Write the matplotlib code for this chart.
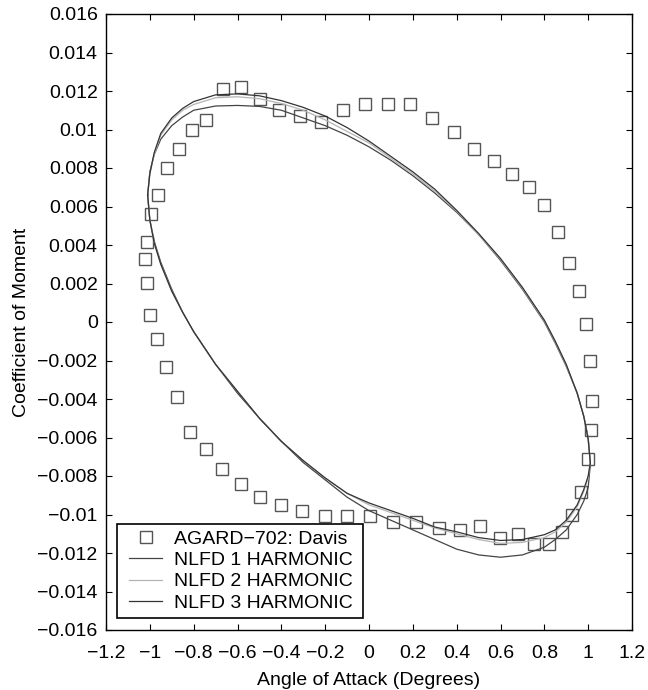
import matplotlib
matplotlib.use("Agg")
import matplotlib.pyplot as plt
from matplotlib.patches import Rectangle

plt.rcParams['font.family'] = ['Liberation Sans', 'DejaVu Sans']

# Experimental data (AGARD-702: Davis)
exp_alpha = [-0.665, -0.585, -0.499, -0.409, -0.315, -0.218, -0.117, -0.017, 0.087, 0.188,
             0.288, 0.386, 0.480, 0.569, 0.652, 0.729, 0.798, 0.861, 0.914, 0.958,
             0.989, 1.010, 1.019, 1.014, 0.998, 0.969, 0.928, 0.881, 0.821, 0.753,
             0.681, 0.598, 0.508, 0.415, 0.318, 0.214, 0.111, 0.005, -0.100, -0.202,
             -0.306, -0.403, -0.496, -0.586, -0.669, -0.745, -0.817, -0.876, -0.928, -0.969,
             -0.998, -1.014, -1.021, -1.012, -0.993, -0.961, -0.920, -0.868, -0.806, -0.742]
exp_cm = [0.01209, 0.01219, 0.01158, 0.01100, 0.01069, 0.01039, 0.01100, 0.01131, 0.01130, 0.01130,
          0.01058, 0.00989, 0.00897, 0.00838, 0.00769, 0.00700, 0.00608, 0.00469, 0.00308, 0.00159,
          -0.00010, -0.00203, -0.00410, -0.00561, -0.00712, -0.00882, -0.01003, -0.01092, -0.01152, -0.01152,
          -0.01101, -0.01122, -0.01061, -0.01081, -0.01072, -0.01041, -0.01039, -0.01010, -0.01010, -0.01010,
          -0.00982, -0.00951, -0.00909, -0.00842, -0.00762, -0.00660, -0.00571, -0.00391, -0.00232, -0.00090,
          0.00036, 0.00201, 0.00327, 0.00416, 0.00559, 0.00660, 0.00798, 0.00899, 0.00999, 0.01049]

# NLFD loops: upper branch (left -> right) then lower branch (right -> left)
alpha_upper = [-1.01, -1.0, -0.98, -0.95, -0.9, -0.85, -0.8, -0.7, -0.6, -0.5, -0.4, -0.3, -0.2, -0.1,
               0.0, 0.1, 0.2, 0.3, 0.4, 0.5, 0.6, 0.7, 0.8, 0.85, 0.9, 0.95, 0.98, 1.0, 1.01]
alpha_lower = [1.0, 0.98, 0.95, 0.9, 0.85, 0.8, 0.7, 0.6, 0.5, 0.4, 0.3, 0.2, 0.1, 0.0,
               -0.1, -0.2, -0.3, -0.4, -0.5, -0.6, -0.7, -0.8, -0.85, -0.9, -0.95, -0.98, -1.0, -1.01]

h1_upper = [0.0066, 0.0078, 0.0087, 0.0095, 0.0102, 0.01065, 0.0110, 0.01122, 0.01125, 0.0112, 0.0110, 0.0106, 0.0102, 0.0097,
            0.0091, 0.0084, 0.0076, 0.0067, 0.0057, 0.00455, 0.0032, 0.0017, 0.0000, -0.0011, -0.0023, -0.0037, -0.0049, -0.0060, -0.0074]
h1_lower = [-0.0086, -0.0093, -0.0100, -0.0108, -0.0113, -0.0117, -0.0121, -0.01222, -0.0121, -0.0118, -0.0113, -0.0108, -0.0103, -0.0098,
            -0.0091, -0.0082, -0.0073, -0.0062, -0.0050, -0.0037, -0.0022, -0.0005, 0.0005, 0.0017, 0.0031, 0.0042, 0.0053, 0.0066]

h2_upper = [0.0066, 0.0077, 0.0087, 0.0097, 0.0105, 0.0110, 0.0113, 0.01165, 0.0117, 0.0116, 0.01135, 0.0110, 0.0105, 0.0099,
            0.0093, 0.0085, 0.0077, 0.0068, 0.00575, 0.00455, 0.00325, 0.00175, 0.00005, -0.00105, -0.00225, -0.0037, -0.0049, -0.00605, -0.0073]
h2_lower = [-0.0081, -0.0088, -0.0096, -0.0104, -0.0109, -0.0112, -0.01145, -0.0115, -0.0113, -0.0110, -0.0107, -0.0103, -0.0099, -0.0095,
            -0.0089, -0.0081, -0.0072, -0.0062, -0.0050, -0.0036, -0.0022, -0.0005, 0.0005, 0.0016, 0.0030, 0.0041, 0.0053, 0.0066]

h3_upper = [0.0066, 0.0077, 0.0088, 0.0098, 0.0106, 0.0111, 0.01145, 0.0118, 0.01185, 0.01175, 0.0115, 0.01115, 0.0107, 0.0101,
            0.0094, 0.0086, 0.0078, 0.0069, 0.0058, 0.0046, 0.0033, 0.0018, 0.0001, -0.0010, -0.0022, -0.0037, -0.0049, -0.0061, -0.0073]
h3_lower = [-0.0080, -0.0087, -0.0095, -0.0103, -0.0108, -0.01105, -0.0113, -0.01135, -0.0112, -0.0109, -0.01065, -0.0102, -0.0098, -0.0094,
            -0.0089, -0.0081, -0.0072, -0.0062, -0.0050, -0.0036, -0.0022, -0.0005, 0.0005, 0.0016, 0.0030, 0.0041, 0.0053, 0.0066]

x_ticks = [-1.2, -1.0, -0.8, -0.6, -0.4, -0.2, 0.0, 0.2, 0.4, 0.6, 0.8, 1.0, 1.2]
x_ticklabels = ['\u22121.2', '\u22121', '\u22120.8', '\u22120.6', '\u22120.4', '\u22120.2', '0',
                '0.2', '0.4', '0.6', '0.8', '1', '1.2']
y_ticks = [0.016, 0.014, 0.012, 0.010, 0.008, 0.006, 0.004, 0.002, 0.0,
           -0.002, -0.004, -0.006, -0.008, -0.010, -0.012, -0.014, -0.016]
y_ticklabels = ['0.016', '0.014', '0.012', '0.01', '0.008', '0.006', '0.004', '0.002', '0',
                '\u22120.002', '\u22120.004', '\u22120.006', '\u22120.008', '\u22120.01',
                '\u22120.012', '\u22120.014', '\u22120.016']

labels = ['AGARD\u2212702: Davis', 'NLFD 1 HARMONIC', 'NLFD 2 HARMONIC', 'NLFD 3 HARMONIC']

FS = 14

fig = plt.figure(figsize=(6.48, 6.90), dpi=100)
ax = fig.add_axes([106 / 648, 60 / 690, 526 / 648, 616 / 690])

l0, = ax.plot(exp_alpha, exp_cm, linestyle='none', marker='s', markersize=9,
              markerfacecolor='none', markeredgecolor='#555555', markeredgewidth=1.0)
l1, = ax.plot(alpha_upper + alpha_lower + alpha_upper[:1], h1_upper + h1_lower + h1_upper[:1],
              color='#444444', lw=0.9)
l2, = ax.plot(alpha_upper + alpha_lower + alpha_upper[:1], h2_upper + h2_lower + h2_upper[:1],
              color='#b4b4b4', lw=0.9)
l3, = ax.plot(alpha_upper + alpha_lower + alpha_upper[:1], h3_upper + h3_lower + h3_upper[:1],
              color='#333333', lw=0.9)

ax.set_xlim(-1.2, 1.2)
ax.set_ylim(-0.016, 0.016)
ax.set_xticks(x_ticks)
ax.set_xticklabels(x_ticklabels)
ax.set_yticks(y_ticks)
ax.set_yticklabels(y_ticklabels)
ax.tick_params(direction='in', length=4, width=0.8, top=True, right=True,
               labelsize=FS, colors='black')
ax.tick_params(axis='y', pad=6)
ax.tick_params(axis='x', pad=11)
for s in ax.spines.values():
    s.set_linewidth(1.0)

ax.set_xlabel('Angle of Attack (Degrees)', fontsize=FS)
ax.set_ylabel('Coefficient of Moment', fontsize=FS)
ax.xaxis.set_label_coords(0.5, -0.068)
ax.yaxis.set_label_coords(-0.145, 0.5)

# legend box
ax.add_patch(Rectangle(((117 - 106) / 526, (630 - 617.7) / 616),
                       (363 - 117) / 526, (617.7 - 524.3) / 616,
                       transform=ax.transAxes, facecolor='white', edgecolor='black',
                       lw=1.2, zorder=5))
leg = ax.legend([l0, l1, l2, l3], labels, loc='lower left',
                bbox_to_anchor=((129 - 106) / 526, (630 - 612) / 616),
                frameon=False, borderpad=0, borderaxespad=0, handlelength=1.7,
                handletextpad=0.6, labelspacing=0.2, fontsize=FS)
leg.set_zorder(6)

fig.savefig('out.png', dpi=100)
